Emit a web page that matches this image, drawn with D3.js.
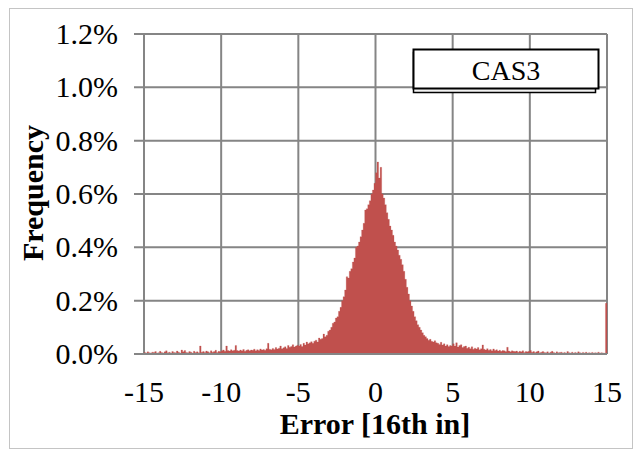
<!DOCTYPE html>
<html>
<head>
<meta charset="utf-8">
<script src="https://cdn.jsdelivr.net/npm/d3@7/dist/d3.min.js"></script>
<style>
  html, body { margin: 0; padding: 0; background: #fff; }
  svg { display: block; }
  text { font-family: "Liberation Serif", "Times New Roman", serif; fill: #000; }
</style>
</head>
<body>
<svg id="chart" width="644" height="455"></svg>
<script>
// ---- data (frequency in %, bins of width 0.1 starting at binStart) ----
const binStart = -15;
const binWidth = 0.1;
const leftTail = [ // -15.0 .. -10.1
  0.006,0.004,0.008,0.005,0.003,0.007,0.006,0.009,0.004,0.005,
  0.010,0.006,0.004,0.008,0.012,0.005,0.007,0.004,0.009,0.006,
  0.005,0.011,0.007,0.004,0.015,0.008,0.013,0.006,0.005,0.009,
  0.007,0.004,0.010,0.006,0.008,0.005,0.030,0.007,0.009,0.006,
  0.011,0.008,0.005,0.012,0.007,0.009,0.014,0.006,0.010,0.008
];
const leftMid = [ // -10.0 .. -5.1
  0.012,0.015,0.010,0.030,0.013,0.011,0.016,0.012,0.014,0.032,
  0.013,0.011,0.015,0.012,0.017,0.010,0.014,0.016,0.012,0.015,
  0.014,0.018,0.012,0.016,0.013,0.019,0.015,0.017,0.014,0.020,
  0.040,0.018,0.016,0.021,0.017,0.024,0.019,0.022,0.030,0.020,
  0.023,0.027,0.021,0.032,0.025,0.028,0.035,0.026,0.030,0.033
];
const core = [ // -5.0 .. 4.9
  0.030,0.036,0.028,0.040,0.034,0.045,0.038,0.042,0.046,0.040,
  0.048,0.052,0.045,0.060,0.055,0.058,0.075,0.065,0.070,0.085,
  0.090,0.100,0.115,0.120,0.135,0.140,0.160,0.175,0.200,0.215,
  0.240,0.290,0.285,0.310,0.320,0.345,0.360,0.400,0.405,0.420,
  0.440,0.465,0.490,0.540,0.545,0.560,0.575,0.600,0.615,0.640,
  0.680,0.720,0.660,0.700,0.600,0.585,0.560,0.530,0.505,0.480,
  0.465,0.445,0.420,0.405,0.390,0.370,0.355,0.335,0.310,0.280,
  0.250,0.225,0.200,0.180,0.160,0.140,0.125,0.110,0.100,0.090,
  0.080,0.070,0.065,0.058,0.052,0.055,0.048,0.045,0.050,0.042,
  0.040,0.036,0.044,0.034,0.038,0.030,0.035,0.028,0.032,0.030
];
const rightTail = [ // 5.0 .. 14.9
  0.038,0.030,0.042,0.026,0.032,0.035,0.024,0.028,0.030,0.022,
  0.025,0.020,0.027,0.018,0.022,0.019,0.024,0.016,0.020,0.034,
  0.018,0.015,0.020,0.014,0.017,0.012,0.019,0.013,0.016,0.011,
  0.014,0.010,0.013,0.012,0.009,0.025,0.011,0.008,0.012,0.010,
  0.009,0.011,0.007,0.010,0.008,0.012,0.006,0.009,0.008,0.010,
  0.013,0.007,0.009,0.006,0.008,0.011,0.005,0.007,0.009,0.006,
  0.005,0.008,0.004,0.007,0.010,0.006,0.003,0.008,0.005,0.006,
  0.007,0.004,0.006,0.003,0.009,0.005,0.004,0.007,0.003,0.006,
  0.004,0.008,0.005,0.003,0.006,0.004,0.007,0.003,0.005,0.004,
  0.006,0.003,0.005,0.004,0.007,0.003,0.005,0.004,0.003,0.190
];
const xTicks = [-15, -10, -5, 0, 5, 10, 15];
const yTicks = [0, 0.2, 0.4, 0.6, 0.8, 1.0, 1.2];
const seriesName = "CAS3";
const xTitle = "Error [16th in]";
const yTitle = "Frequency";

const values = leftTail.concat(leftMid, core, rightTail);
const bins = values.map((v, i) => ({ x0: binStart + i * binWidth, v }));
// closing point so the last bin gets its full width in the step area
const stepPts = bins.concat([{ x0: binStart + values.length * binWidth, v: values[values.length - 1] }]);

// ---- layout ----
const svg = d3.select("#chart");
const x = d3.scaleLinear().domain([-15, 15]).range([144, 607]);
const y = d3.scaleLinear().domain([0, 1.2]).range([354, 34]);
const gridColor = "#858585";

// outer border
svg.append("rect")
  .attr("x", 9.5).attr("y", 8.5).attr("width", 623).attr("height", 440)
  .attr("fill", "#fff").attr("stroke", "#c4c4c4").attr("stroke-width", 1);

// horizontal gridlines (extend left as ticks)
svg.append("g").selectAll("line").data(yTicks).join("line")
  .attr("x1", 134).attr("x2", x(15))
  .attr("y1", d => y(d)).attr("y2", d => y(d))
  .attr("stroke", gridColor).attr("stroke-width", 2);

// vertical gridlines
svg.append("g").selectAll("line").data(xTicks).join("line")
  .attr("x1", d => x(d)).attr("x2", d => x(d))
  .attr("y1", y(1.2)).attr("y2", y(0))
  .attr("stroke", gridColor).attr("stroke-width", 2);

// histogram bars as one stepped area (avoids seams between thin bars)
const area = d3.area()
  .curve(d3.curveStepAfter)
  .x(d => x(d.x0))
  .y0(y(0))
  .y1(d => y(d.v));
svg.append("path")
  .datum(stepPts)
  .attr("d", area)
  .attr("fill", "#c0504d")
  .attr("stroke", "#c0504d")
  .attr("stroke-width", 0.4)
  .attr("stroke-opacity", 0.6);

// baseline axis
svg.append("line")
  .attr("x1", 134).attr("x2", x(15))
  .attr("y1", y(0)).attr("y2", y(0))
  .attr("stroke", gridColor).attr("stroke-width", 2);

// y tick labels
svg.append("g").selectAll("text").data(yTicks).join("text")
  .attr("x", 118).attr("y", d => y(d) + 10)
  .attr("text-anchor", "end")
  .attr("font-size", 30)
  .text(d => d3.format(".1f")(d) + "%");

// x tick labels
svg.append("g").selectAll("text").data(xTicks).join("text")
  .attr("x", d => x(d)).attr("y", 402)
  .attr("text-anchor", "middle")
  .attr("font-size", 30)
  .text(d => d < 0 ? "-" + Math.abs(d) : String(d));

// axis titles
svg.append("text")
  .attr("x", 375).attr("y", 434)
  .attr("text-anchor", "middle")
  .attr("font-size", 30).attr("font-weight", "bold")
  .text(xTitle);

svg.append("text")
  .attr("transform", "translate(43,193) rotate(-90)")
  .attr("text-anchor", "middle")
  .attr("font-size", 30).attr("font-weight", "bold")
  .text(yTitle);

// legend box
svg.append("rect")
  .attr("x", 413.5).attr("y", 52.5).attr("width", 182).attr("height", 40)
  .attr("fill", "#f2f2f2").attr("stroke", "#000").attr("stroke-width", 1.5);
svg.append("rect")
  .attr("x", 413.5).attr("y", 49.5).attr("width", 185).attr("height", 39)
  .attr("fill", "#fff").attr("stroke", "#000").attr("stroke-width", 2);
svg.append("text")
  .attr("x", 506).attr("y", 80)
  .attr("text-anchor", "middle")
  .attr("font-size", 28)
  .text(seriesName);
</script>
</body>
</html>
